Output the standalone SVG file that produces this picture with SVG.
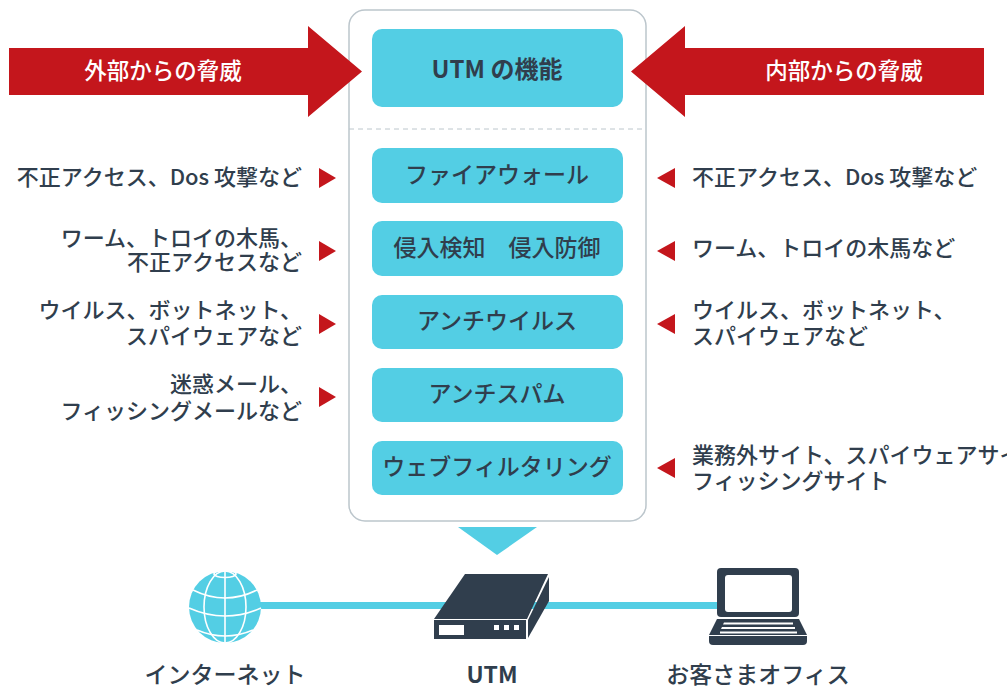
<svg xmlns="http://www.w3.org/2000/svg" width="1007" height="688" viewBox="0 0 1007 688">
<style>
text{font-family:"Noto Sans CJK JP","Noto Sans",sans-serif;font-weight:500;fill:#303e4d;font-size:22px}
.box{fill:#53cee4}
.red{fill:#c4161c}
.dark{fill:#303e4d}
.c{text-anchor:middle;font-size:23px}
.r{text-anchor:end}
.w{fill:#fff;font-size:22.5px;text-anchor:middle}
.gl{fill:none;stroke:#fff;stroke-width:1.6}
</style>
<rect width="1007" height="688" fill="#fff"/>
<g id="panel">
<rect x="349" y="10" width="297" height="511" rx="16" fill="#fff" stroke="#bcc6cc" stroke-width="1.5"/>
<line x1="349" y1="129" x2="646" y2="129" stroke="#bcc6cc" stroke-width="1" stroke-dasharray="5 4"/>
</g>
<g id="connectors">
<rect x="255" y="602" width="470" height="7" fill="#53cee4"/>
<polygon points="458,527 537,527 497,555" fill="#53cee4"/>
</g>
<g id="threat-external"><polygon class="red" points="9,48 308,48 308,26 362,71.500 308,117 308,95 9,95"/><text class="w" x="163" y="79">外部からの脅威</text></g>
<g id="threat-internal"><polygon class="red" points="984,48 685,48 685,26 631,71.500 685,117 685,95 984,95"/><text class="w" x="844" y="79">内部からの脅威</text></g>
<g id="utm-title"><rect class="box" x="372" y="29" width="251" height="78" rx="10"/><text class="c" x="497" y="78" style="font-size:24px;font-weight:700">UTM の機能</text></g>
<g id="firewall"><rect class="box" x="372" y="148" width="251" height="55" rx="10"/><text class="c" x="497" y="183">ファイアウォール</text></g>
<g id="ids"><rect class="box" x="372" y="221" width="251" height="55" rx="10"/><text class="c" x="497" y="256">侵入検知　侵入防御</text></g>
<g id="antivirus"><rect class="box" x="372" y="295" width="251" height="54" rx="10"/><text class="c" x="497" y="329">アンチウイルス</text></g>
<g id="antispam"><rect class="box" x="372" y="368" width="251" height="54" rx="10"/><text class="c" x="497" y="402">アンチスパム</text></g>
<g id="webfilter"><rect class="box" x="372" y="441" width="251" height="54" rx="10"/><text class="c" x="497" y="475">ウェブフィルタリング</text></g>
<g id="left-labels">
<text class="r" x="302" y="185">不正アクセス、Dos 攻撃など</text>
<text class="r" x="302" y="246">ワーム、トロイの木馬、</text>
<text class="r" x="302" y="270">不正アクセスなど</text>
<text class="r" x="302" y="318">ウイルス、ボットネット、</text>
<text class="r" x="302" y="344">スパイウェアなど</text>
<text class="r" x="302" y="392">迷惑メール、</text>
<text class="r" x="302" y="419">フィッシングメールなど</text>
<polygon class="red" points="319,168 336,178 319,188"/>
<polygon class="red" points="319,241 336,251 319,261"/>
<polygon class="red" points="319,314 336,324 319,334"/>
<polygon class="red" points="319,387 336,397 319,407"/>
</g>
<g id="right-labels">
<text x="692" y="185">不正アクセス、Dos 攻撃など</text>
<text x="692" y="256">ワーム、トロイの木馬など</text>
<text x="692" y="318">ウイルス、ボットネット、</text>
<text x="692" y="344">スパイウェアなど</text>
<text x="692" y="463">業務外サイト、スパイウェアサイト</text>
<text x="692" y="489">フィッシングサイト</text>
<polygon class="red" points="675,168 657,178 675,188"/>
<polygon class="red" points="675,241 657,251 675,261"/>
<polygon class="red" points="675,314 657,324 675,334"/>
<polygon class="red" points="675,458 657,468 675,478"/>
</g>
<g id="internet">
<circle cx="225" cy="607" r="36" fill="#53cee4"/>
<g class="gl">
<line x1="225" y1="571" x2="225" y2="643"/>
<ellipse cx="225" cy="607" rx="21" ry="36"/>
<ellipse cx="225" cy="574" rx="11" ry="3.500"/>
<path d="M193,590 Q225,606 257,590"/>
<line x1="189" y1="606" x2="261" y2="606" transform="translate(0,-8)" opacity="0"/>
<path d="M189,608 Q225,624 261,608"/>
<path d="M197,630 Q225,642 253,630"/>
<path d="M195,586 Q225,572 255,586" opacity="0"/>
</g>
<text x="225" y="683" text-anchor="middle" style="text-anchor:middle;font-size:23px">インターネット</text>
</g>
<g id="utm-device">
<polygon class="dark" points="465,574 548,574 527,619 434,619"/>
<rect class="dark" x="434" y="620" width="92" height="19"/>
<polygon class="dark" points="528,620 549,577 549,601 528,638"/>
<rect x="439" y="625" width="25" height="10" fill="#fff"/>
<rect x="494" y="625" width="5" height="5" fill="#fff"/>
<rect x="504" y="625" width="5" height="5" fill="#fff"/>
<rect x="514" y="625" width="5" height="5" fill="#fff"/>
<text x="492" y="683" style="text-anchor:middle;font-size:23px;font-weight:700">UTM</text>
</g>
<g id="office">
<rect class="dark" x="717" y="568" width="82" height="49" rx="4"/>
<rect x="725" y="575" width="67" height="37" rx="3" fill="#fff"/>
<polygon class="dark" points="717,619 799,619 807,635 709,635"/>
<path class="dark" d="M709,636 H807 V641 Q807,645 803,645 H713 Q709,645 709,641 Z"/>
<polygon fill="#fff" points="724,622.500 793,622.500 793,624.500 723,624.500"/>
<polygon fill="#fff" points="722,627 795,627 795,629 721,629"/>
<polygon fill="#fff" points="720,631.500 797,631.500 797,633.500 720,633.500"/>
<text x="758" y="683" style="text-anchor:middle;font-size:23px">お客さまオフィス</text>
</g>
</svg>
